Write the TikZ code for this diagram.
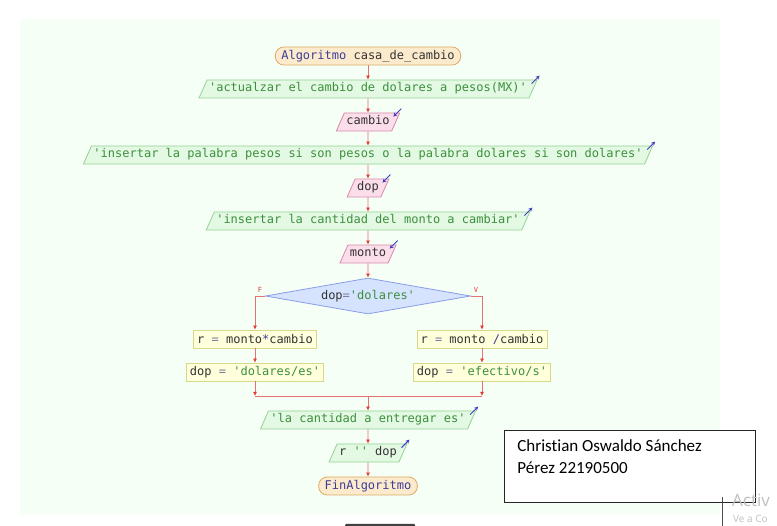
\documentclass[tikz,border=0pt]{standalone}
\usepackage{fontspec}
\setmonofont{DejaVu Sans Mono}
\newfontfamily\notefont[Ligatures=NoCommon]{Carlito}
\newfontfamily\winfont{Open Sans}
\usetikzlibrary{shapes.geometric,arrows.meta}
\definecolor{bgfill}{HTML}{F5FFF5}
\definecolor{flowred}{HTML}{E57373}
\definecolor{tipred}{HTML}{E53935}
\definecolor{outfill}{HTML}{E4F9E4}
\definecolor{outdraw}{HTML}{92D492}
\definecolor{strgreen}{HTML}{3C8F3C}
\definecolor{infill}{HTML}{FCDDEA}
\definecolor{indraw}{HTML}{D88AAA}
\definecolor{procfill}{HTML}{FFFFDC}
\definecolor{procdraw}{HTML}{D8D88A}
\definecolor{condfill}{HTML}{D6E3FF}
\definecolor{conddraw}{HTML}{8A9CE6}
\definecolor{termfill}{HTML}{FCEACD}
\definecolor{termdraw}{HTML}{DDAA66}
\definecolor{kwblue}{HTML}{3D3D99}
\definecolor{txtgray}{HTML}{333333}
\definecolor{opgray}{HTML}{7A7A9A}
\definecolor{iconblue}{HTML}{4040C0}
\newcommand{\pseint}{\ttfamily\fontsize{12}{14}\selectfont}
\newcommand{\kw}[1]{\textcolor{kwblue}{#1}}
\newcommand{\cad}[1]{\textcolor{strgreen}{#1}}
\newcommand{\opr}[1]{\textcolor{opgray}{#1}}
\newcommand{\sqt}{\textquotesingle}
\tikzstyle{term state}=[
        draw = termdraw,
        fill = termfill,
        text = txtgray,
        rounded corners = 8.5pt,
        minimum height = 18pt,
        inner xsep = 6pt,
        inner ysep = 0pt,
        line width = 0.8pt,
        font = \pseint
    ]
\tikzstyle{out state}=[
        trapezium,
        trapezium left angle = 66,
        trapezium right angle = 114,
        draw = outdraw,
        fill = outfill,
        text = strgreen,
        text height = 9pt,
        text depth = 3pt,
        inner xsep = 2pt,
        inner ysep = 3pt,
        line width = 0.8pt,
        font = \pseint
    ]
\tikzstyle{in state}=[
        trapezium,
        trapezium left angle = 66,
        trapezium right angle = 114,
        draw = indraw,
        fill = infill,
        text = txtgray,
        text height = 9pt,
        text depth = 3pt,
        inner xsep = 2pt,
        inner ysep = 3pt,
        line width = 0.8pt,
        font = \pseint
    ]
\tikzstyle{proc state}=[
        draw = procdraw,
        fill = procfill,
        text = txtgray,
        minimum height = 18pt,
        inner xsep = 3.5pt,
        inner ysep = 0pt,
        line width = 0.8pt,
        font = \pseint
    ]
\tikzstyle{cond state}=[
        diamond,
        aspect = 6,
        draw = conddraw,
        fill = condfill,
        text = txtgray,
        minimum width = 205pt,
        minimum height = 36pt,
        inner sep = 0pt,
        line width = 0.8pt,
        font = \pseint
    ]
\tikzstyle{flow}=[
        draw = flowred,
        line width = 0.8pt,
        -{Latex[length=4pt, width=4pt, color=tipred]}
    ]
\tikzstyle{io arrow}=[
        draw = iconblue,
        line width = 0.9pt,
        -{Stealth[length=4pt, width=4pt]}
    ]
\tikzstyle{branch label}=[
        text = tipred,
        inner sep = 0pt,
        font = \ttfamily\fontsize{7}{8}\selectfont
    ]
\tikzstyle{note box}=[
        draw = black!85,
        fill = white,
        line width = 0.8pt,
        inner xsep = 13pt,
        inner ysep = 9pt,
        font = \notefont\fontsize{17}{22}\selectfont
    ]

\begin{document}
\begin{tikzpicture}[x=1pt, y=1pt, node distance={33pt}]
        \useasboundingbox (0,0) rectangle (777,-526);
        \fill[bgfill] (20,-19) rectangle (720,-515);

        \node[term state] (inicio) at (368,-56) {\kw{Algoritmo} casa\textunderscore de\textunderscore cambio};
        \node[out state] (msg1) [below of = inicio] {\sqt actualzar el cambio de dolares a pesos(MX)\sqt};
        \node[in state] (cambio) [below of = msg1] {cambio};
        \node[out state] (msg2) [below of = cambio] {\sqt insertar la palabra pesos si son pesos o la palabra dolares si son dolares\sqt};
        \node[in state] (dop) [below of = msg2] {dop};
        \node[out state] (msg3) [below of = dop] {\sqt insertar la cantidad del monto a cambiar\sqt};
        \node[in state] (monto) [below of = msg3] {monto};
        \node[cond state] (cond) [below of = monto, node distance = 42pt] {dop\opr{=}\cad{\sqt dolares\sqt}};

        \node[proc state] (mult) at (255,-339) {r \opr{=} monto\kw{*}cambio};
        \node[proc state] (dopa) [below of = mult] {dop \opr{=} \cad{\sqt dolares/es\sqt}};
        \node[proc state] (divi) at (482,-339) {r \opr{=} monto \kw{/}cambio};
        \node[proc state] (dopb) [below of = divi] {dop \opr{=} \cad{\sqt efectivo/s\sqt}};

        \node[out state] (msg4) at (368,-420) {\sqt la cantidad a entregar es\sqt};
        \node[out state, text = txtgray] (salida) [below of = msg4] {r \cad{\sqt\sqt} dop};
        \node[term state] (fin) [below of = salida] {\kw{FinAlgoritmo}};

        \node[branch label] (lblf) at ([shift={(-5,6)}]cond.west) {F};
        \node[branch label] (lblv) at ([shift={(5,6)}]cond.east) {V};

        \coordinate (junta) at (368,-396);
        \coordinate (ljunta) at (dopa |- junta);
        \coordinate (rjunta) at (dopb |- junta);

        \draw[flow] (inicio) -- (msg1);
        \draw[flow] (msg1) -- (cambio);
        \draw[flow] (cambio) -- (msg2);
        \draw[flow] (msg2) -- (dop);
        \draw[flow] (dop) -- (msg3);
        \draw[flow] (msg3) -- (monto);
        \draw[flow] (monto) -- (cond);
        \draw[flow] (cond.west) -| (mult);
        \draw[flow] (cond.east) -| (divi);
        \draw[flow] (mult) -- (dopa);
        \draw[flow] (divi) -- (dopb);
        \draw[flow] (dopa) -- (ljunta);
        \draw[flow] (dopb) -- (rjunta);
        \draw[flow, -] (ljunta) -- (rjunta);
        \draw[flow] (junta) -- (msg4);
        \draw[flow] (msg4) -- (salida);
        \draw[flow] (salida) -- (fin);

        % little read/write marks
        \draw[io arrow] ([shift={(-6,-4)}]msg1.top right corner) -- ++(8,8);
        \draw[io arrow] ([shift={(-6,-4)}]msg2.top right corner) -- ++(8,8);
        \draw[io arrow] ([shift={(-6,-4)}]msg3.top right corner) -- ++(8,8);
        \draw[io arrow] ([shift={(-6,-4)}]msg4.top right corner) -- ++(8,8);
        \draw[io arrow] ([shift={(-6,-4)}]salida.top right corner) -- ++(8,8);
        \draw[io arrow] ([shift={(1,4)}]cambio.top right corner) -- ++(-8,-8);
        \draw[io arrow] ([shift={(1,4)}]dop.top right corner) -- ++(-8,-8);
        \draw[io arrow] ([shift={(1,4)}]monto.top right corner) -- ++(-8,-8);

        \node[note box, anchor = north west] (autor) at (504,-430) {\parbox[t][54pt][t]{225pt}{Christian Oswaldo Sánchez\\Pérez 22190500}};

        % screen leftovers
        \draw[black!70, line width = 0.8pt] (722,-497) -- (722,-526);
        \node[anchor = base west, inner sep = 0pt, text = black!25, font = \winfont\fontsize{17}{17}\selectfont] (marca) at (732,-507) {Activ};
        \node[anchor = base west, inner sep = 0pt, text = black!25, font = \winfont\fontsize{10}{10}\selectfont] (marcab) at (733,-522) {Ve a Co};
        \fill[black!75, rounded corners = 1pt] (345,-524) rectangle (415,-528);
\end{tikzpicture}
\end{document}
